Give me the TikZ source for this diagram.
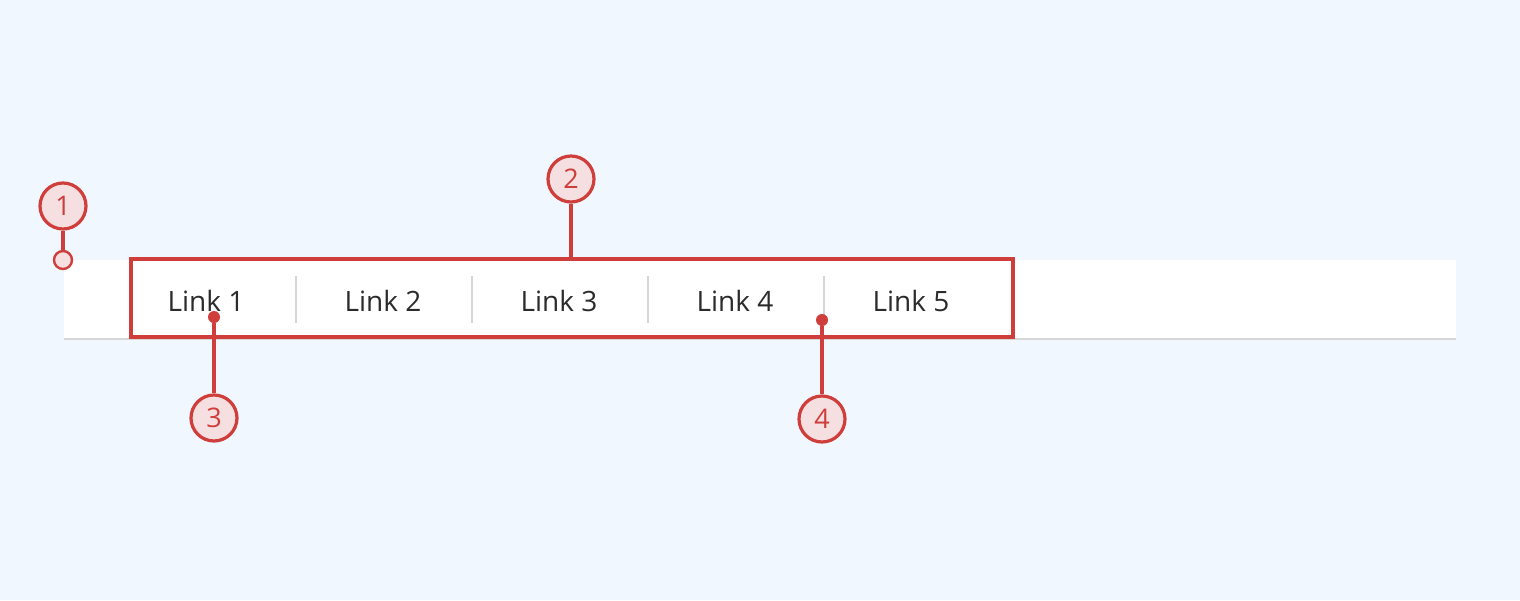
\documentclass[tikz,border=0pt]{standalone}
\usepackage{fontspec}
\setmainfont{Open Sans}
\definecolor{bg}{HTML}{F0F7FE}
\definecolor{rd}{HTML}{CF3E3A}
\definecolor{pk}{HTML}{F5DFE0}
\definecolor{sep}{HTML}{D6D6D6}
\definecolor{txt}{HTML}{2B2B2B}
\tikzset{
 marker/.style={circle,draw=rd,fill=pk,line width=3.2pt,minimum size=46pt,inner sep=0pt,text=rd,font=\fontsize{27}{27}\selectfont},
 lead/.style={draw=rd,line width=3.2pt},
 linktext/.style={text=txt,font=\fontsize{28}{28}\selectfont,inner sep=0pt},
 dot/.style={circle,fill=rd,minimum size=12pt,inner sep=0pt},
}
\begin{document}
\begin{tikzpicture}[x=1pt,y=-1pt]
\fill[bg] (0,0) rectangle (1520,600);
\useasboundingbox (0,0) rectangle (1520,600);
\fill[white] (64,260) rectangle (1456,338);
\draw[sep,line width=2.2pt] (64,339) -- (1456,339);
\foreach \x in {296,472,648,824}{\draw[sep,line width=2pt] (\x,276) -- (\x,323);}
\foreach \x/\t in {206/1,383/2,559/3,735/4,911/5}{\node[linktext] (l\t) at (\x,301) {Link \t};}
\draw[rd,line width=3.4pt] (131,259) rectangle (1013,337);
\coordinate (boxtop) at (571,259);
\node[marker] (m1) at (63,206) {1};
\node[marker] (m2) at (571,179) {2};
\node[marker] (m3) at (214,418) {3};
\node[marker] (m4) at (822,419) {4};
\node[circle,draw=rd,fill=pk,line width=2.4pt,minimum size=18pt,inner sep=0pt] (c1) at (63,260) {};
\node[dot] (d3) at (214,317) {};
\node[dot] (d4) at (822,320) {};
\draw[lead] (m1) -- (c1);
\draw[lead] (m2) -- (boxtop);
\draw[lead] (m3) -- (d3);
\draw[lead] (m4) -- (d4);
\end{tikzpicture}
\end{document}
